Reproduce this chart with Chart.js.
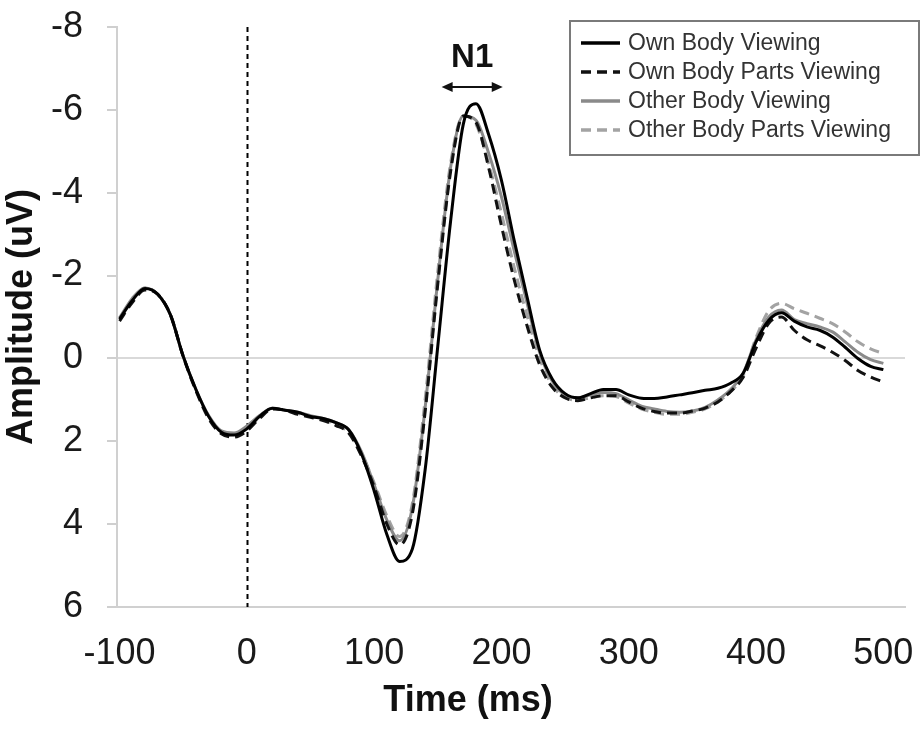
<!DOCTYPE html>
<html><head><meta charset="utf-8">
<style>html,body{margin:0;padding:0;background:#fff}#wrap{width:920px;height:731px}</style>
<script src="https://cdn.jsdelivr.net/npm/chart.js@4"></script>
</head><body><div id="wrap"><canvas id="c" width="920" height="731"></canvas></div>
<script>
const times = [-100,-90,-80,-70,-60,-50,-40,-30,-20,-10,0,10,20,30,40,50,60,70,80,90,100,110,120,130,140,150,160,170,180,190,200,210,220,230,240,250,260,270,280,290,300,310,320,330,340,350,360,370,380,390,400,410,420,430,440,450,460,470,480,490,500];
const ownBody = [-0.95,-1.4,-1.69,-1.55,-1.05,-0.05,0.75,1.4,1.78,1.85,1.7,1.4,1.2,1.25,1.3,1.4,1.45,1.55,1.72,2.3,3.2,4.25,4.9,4.6,2.7,-0.3,-3.3,-5.65,-6.15,-5.4,-4.3,-2.85,-1.5,-0.2,0.5,0.85,0.95,0.85,0.75,0.75,0.88,0.96,0.97,0.93,0.88,0.83,0.77,0.72,0.6,0.35,-0.4,-0.92,-1.1,-0.9,-0.76,-0.68,-0.52,-0.27,0.0,0.19,0.27];
const ownBodyParts = [-0.9,-1.35,-1.65,-1.55,-1.05,-0.05,0.78,1.45,1.82,1.9,1.75,1.45,1.22,1.25,1.35,1.42,1.5,1.62,1.8,2.35,3.1,4.0,4.5,3.75,1.3,-1.8,-4.5,-5.85,-5.7,-4.6,-3.2,-1.9,-0.8,0.15,0.7,0.95,1.02,0.95,0.9,0.9,1.05,1.2,1.28,1.32,1.32,1.27,1.2,1.05,0.8,0.45,-0.25,-0.85,-1.0,-0.68,-0.45,-0.31,-0.15,0.05,0.29,0.45,0.57];
const otherBody = [-0.98,-1.45,-1.7,-1.55,-1.05,-0.05,0.75,1.38,1.75,1.8,1.63,1.38,1.2,1.25,1.3,1.38,1.45,1.55,1.72,2.25,3.05,3.9,4.4,3.6,1.2,-1.9,-4.6,-5.85,-5.75,-4.95,-3.9,-2.6,-1.35,-0.15,0.55,0.88,0.95,0.88,0.82,0.85,1.0,1.15,1.22,1.28,1.3,1.27,1.18,1.0,0.75,0.35,-0.45,-1.0,-1.17,-0.94,-0.84,-0.76,-0.64,-0.4,-0.15,0.03,0.12];
const otherBodyParts = [-0.95,-1.42,-1.7,-1.55,-1.05,-0.05,0.76,1.4,1.78,1.85,1.68,1.42,1.2,1.25,1.33,1.4,1.48,1.6,1.78,2.3,3.0,3.8,4.3,3.5,1.0,-2.1,-4.7,-5.85,-5.65,-4.7,-3.5,-2.2,-1.05,0.0,0.65,0.95,1.0,0.95,0.9,0.92,1.08,1.22,1.3,1.35,1.35,1.3,1.22,1.05,0.8,0.4,-0.5,-1.15,-1.33,-1.2,-1.09,-0.97,-0.84,-0.64,-0.4,-0.23,-0.12];
const seriesLabels = ['Own Body Viewing','Own Body Parts Viewing','Other Body Viewing','Other Body Parts Viewing'];
const xTickValues = [-100,0,100,200,300,400,500];
const yTickValues = [-8,-6,-4,-2,0,2,4,6];
const xTitle = 'Time (ms)';
const yTitle = 'Amplitude (uV)';
const n1Label = 'N1';
const n1Range = [153, 201];
const n1Level = -6.55;
const stimulusOnset = 0;

const FAM = "'Liberation Sans', Arial, sans-serif";
const toPts = vals => times.map((t, i) => ({x: t, y: vals[i]}));
const noPad = s => { s.paddingLeft = 0; s.paddingRight = 0; s.paddingTop = 0; s.paddingBottom = 0; };

const decor = {
  id: 'decor',
  beforeDatasetsDraw(chart) {
    const {ctx, chartArea, scales: {x}} = chart;
    const px = Math.round(x.getPixelForValue(stimulusOnset)) + 0.5;
    ctx.save();
    ctx.strokeStyle = '#000'; ctx.lineWidth = 2; ctx.setLineDash([5, 4]);
    ctx.beginPath(); ctx.moveTo(px, chartArea.top); ctx.lineTo(px, chartArea.bottom); ctx.stroke();
    ctx.restore();
  },
  afterDraw(chart) {
    const {ctx, scales: {x, y}} = chart;
    ctx.save();
    const ax1 = x.getPixelForValue(n1Range[0]), ax2 = x.getPixelForValue(n1Range[1]);
    const ay = y.getPixelForValue(n1Level);
    ctx.strokeStyle = '#111'; ctx.fillStyle = '#111'; ctx.lineWidth = 2;
    ctx.beginPath(); ctx.moveTo(ax1 + 4, ay); ctx.lineTo(ax2 - 4, ay); ctx.stroke();
    ctx.beginPath(); ctx.moveTo(ax1, ay); ctx.lineTo(ax1 + 11, ay - 5); ctx.lineTo(ax1 + 11, ay + 5); ctx.closePath(); ctx.fill();
    ctx.beginPath(); ctx.moveTo(ax2, ay); ctx.lineTo(ax2 - 11, ay - 5); ctx.lineTo(ax2 - 11, ay + 5); ctx.closePath(); ctx.fill();
    ctx.font = 'bold 33px ' + FAM; ctx.textAlign = 'center'; ctx.textBaseline = 'middle';
    ctx.fillText(n1Label, (ax1 + ax2) / 2, ay - 29);
    ctx.fillStyle = '#111';
    ctx.font = 'bold 36px ' + FAM;
    ctx.fillText(xTitle, 468, 701);
    const bl = 570, bt = 21, br = 919, bb = 155;
    ctx.lineWidth = 2; ctx.strokeStyle = '#7a7a7a'; ctx.setLineDash([]);
    ctx.fillStyle = '#fff';
    ctx.fillRect(bl, bt, br - bl, bb - bt);
    ctx.strokeRect(bl, bt, br - bl, bb - bt);
    ctx.font = '23px ' + FAM; ctx.textAlign = 'left'; ctx.textBaseline = 'middle';
    chart.data.datasets.forEach((ds, i) => {
      const ry = bt + 22 + i * 29;
      ctx.strokeStyle = ds.borderColor; ctx.lineWidth = 3.5;
      ctx.setLineDash(ds.borderDash || []);
      ctx.beginPath(); ctx.moveTo(581, ry); ctx.lineTo(620, ry); ctx.stroke();
      ctx.setLineDash([]);
      ctx.fillStyle = '#333';
      ctx.fillText(ds.label, 628, ry + 1);
    });
    ctx.restore();
  }
};

new Chart(document.getElementById('c'), {
  type: 'line',
  data: {
    datasets: [
      {label: seriesLabels[0], data: toPts(ownBody), borderColor: '#000', borderWidth: 3},
      {label: seriesLabels[1], data: toPts(ownBodyParts), borderColor: '#111', borderWidth: 3, borderDash: [10, 6]},
      {label: seriesLabels[2], data: toPts(otherBody), borderColor: '#8a8a8a', borderWidth: 3},
      {label: seriesLabels[3], data: toPts(otherBodyParts), borderColor: '#a3a3a3', borderWidth: 3, borderDash: [10, 6]}
    ]
  },
  options: {
    responsive: false, animation: false,
    layout: {padding: {left: 0, right: 15, top: 27, bottom: 0}},
    plugins: {legend: {display: false}, tooltip: {enabled: false}},
    elements: {point: {radius: 0}, line: {cubicInterpolationMode: 'monotone', fill: false}},
    scales: {
      x: {
        type: 'linear', min: -102, max: 517,
        afterBuildTicks: s => { s.ticks = xTickValues.map(v => ({value: v})); },
        afterFit: s => { s.height = 124; noPad(s); },
        grid: {color: 'transparent', drawTicks: false},
        border: {color: '#d0d0d0', width: 2},
        ticks: {padding: 25, autoSkip: false, maxRotation: 0, font: {size: 36, family: FAM}, color: '#1a1a1a'}
      },
      y: {
        reverse: true, min: -8, max: 6,
        afterBuildTicks: s => { s.ticks = yTickValues.map(v => ({value: v})); },
        afterFit: s => { s.width = 117; noPad(s); },
        grid: {color: c => (c.tick && c.tick.value === 0) ? '#d9d9d9' : 'transparent', lineWidth: 2, tickColor: '#cfcfcf', tickLength: 10, tickWidth: 2},
        border: {color: '#d0d0d0', width: 2},
        ticks: {padding: 24, font: {size: 36, family: FAM}, color: '#1a1a1a'},
        title: {display: true, text: yTitle, font: {size: 36, weight: 'bold', family: FAM}, color: '#111', padding: {top: 0, bottom: 0}}
      }
    }
  },
  plugins: [decor]
});
</script></body></html>
